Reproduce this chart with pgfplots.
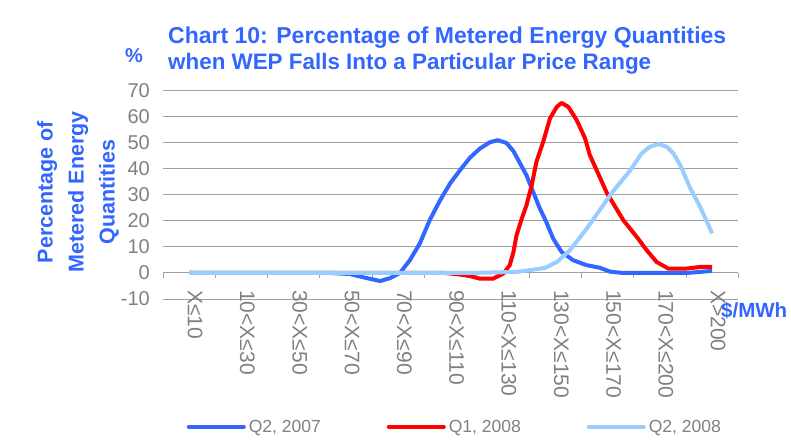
\documentclass[border=0pt]{standalone}
\usepackage{fontspec}
\setmainfont{Liberation Sans}
\usepackage{pgfplots}
\pgfplotsset{compat=1.18}
\definecolor{cblue}{RGB}{51,102,255}
\definecolor{cred}{RGB}{255,0,0}
\definecolor{clight}{RGB}{153,204,255}
\definecolor{tgray}{RGB}{128,128,128}
\definecolor{ggray}{RGB}{160,160,160}
\begin{document}
\begin{tikzpicture}
\path[use as bounding box] (0,0) rectangle (791pt,444pt);
\begin{axis}[
  at={(163pt,145pt)}, anchor=south west,
  scale only axis, width=575.3pt, height=208.3pt,
  xmin=-0.5, xmax=10.5, ymin=-10, ymax=70,
  clip=false,
  axis line style={draw=none},
  xtick={-0.5,0.5,...,10.5},
  x tick label as interval,
  xticklabels={X≤10,10<X≤30,30<X≤50,50<X≤70,70<X≤90,90<X≤110,110<X≤130,130<X≤150,150<X≤170,170<X≤200,X>200},
  ytick={-10,0,...,70},
  ymajorgrids,
  grid style={ggray, line width=1pt},
  major tick length=0pt,
  /pgf/number format/assume math mode=true,
  tick label style={text=tgray},
  yticklabel style={font=\fontsize{20}{20}\selectfont, anchor=east, inner sep=0pt, xshift=-13pt},
  xticklabel style={font=\fontsize{21}{21}\selectfont, xshift=6pt, yshift=9pt, rotate=-90, anchor=west, inner sep=0pt},
  legend columns=3,
  legend style={at={(axis description cs:0.041,-0.613)}, anchor=west, draw=none, fill=none,
    inner sep=0pt, font=\fontsize{17.5}{17.5}\selectfont, text=tgray,
    nodes={inner sep=0pt},
    /tikz/every odd column/.append style={column sep=3pt},
    /tikz/every even column/.append style={column sep=66pt}},
]
\draw[ggray, line width=1pt] (axis cs:-0.5,0) -- (axis cs:10.5,0);
\pgfplotsinvokeforeach{-0.5,0.5,...,10.5}{\draw[ggray, line width=1pt] (axis cs:#1,0) -- ++(0pt,-5pt);}
\addplot[cblue, line width=4pt, line join=round,
  legend image code/.code={\draw[cblue, line width=4pt, line cap=round] (0pt,0pt) -- (55pt,0pt);}] coordinates {
(0,0) (1,0) (2,0) (2.69,0) (3.07,-0.4) (3.36,-1.8) (3.65,-3.1) (3.84,-2.0) (4.03,0) (4.22,4.9) (4.41,11.3) (4.60,20.3) (4.80,28) (4.99,34.4) (5.18,39.5) (5.37,44.3) (5.56,47.8) (5.75,50.2) (5.90,51) (6.07,49.9) (6.20,46.8) (6.33,42) (6.45,37.5) (6.57,31.5) (6.70,25) (6.83,19.5) (6.96,13.2) (7.12,8.1) (7.34,4.9) (7.60,3) (7.85,2.0) (8.05,0.5) (8.29,0) (9,0) (9.52,0) (10,0.8)};
\addlegendentry{Q2, 2007}
\addplot[cred, line width=4pt, line join=round,
  legend image code/.code={\draw[cred, line width=4pt, line cap=round] (0pt,0pt) -- (55pt,0pt);}] coordinates {
(0,0) (4.89,0) (5.18,-0.6) (5.37,-1.2) (5.56,-2.2) (5.81,-2.2) (6.01,-0.2) (6.13,3) (6.20,8) (6.26,14.5) (6.36,20.9) (6.45,26) (6.55,33.7) (6.64,42.7) (6.77,50.4) (6.90,59.4) (7.03,63.8) (7.12,65.3) (7.25,63.8) (7.41,58.7) (7.57,51.7) (7.66,45.3) (7.82,38.2) (7.98,31) (8.30,20.3) (8.56,13.8) (8.75,8.7) (8.94,4.2) (9.16,1.7) (9.51,1.7) (9.77,2.3) (10,2.3)};
\addlegendentry{Q1, 2008}
\addplot[clight, line width=4pt, line join=round,
  legend image code/.code={\draw[clight, line width=4pt, line cap=round] (0pt,0pt) -- (55pt,0pt);}] coordinates {
(0,0) (5.37,0) (6.26,0.4) (6.80,1.9) (7.03,4.2) (7.28,8.7) (7.60,17) (7.85,24.1) (8.11,31.5) (8.43,39.3) (8.65,45.9) (8.81,48.5) (8.97,49.5) (9.13,48.5) (9.26,45.9) (9.40,41) (9.57,33) (9.77,25.4) (10,15.2)};
\addlegendentry{Q2, 2008}
\end{axis}
\node[anchor=base west, inner sep=0pt, font=\fontsize{23}{26.7}\selectfont\bfseries, text=cblue] at (168pt,400.7pt) {Chart 10: Percentage of Metered Energy Quantities};
\node[anchor=base west, inner sep=0pt, font=\fontsize{22.4}{26.7}\selectfont\bfseries, text=cblue] at (168pt,374pt) {when WEP Falls Into a Particular Price Range};
\node[anchor=base west, inner sep=0pt, font=\fontsize{20}{24}\selectfont\bfseries, text=cblue] at (125pt,381pt) {\%};
\node[anchor=base west, inner sep=0pt, font=\fontsize{20.5}{24}\selectfont\bfseries, text=cblue] at (721pt,126pt) {\$/MWh};
\node[rotate=90, align=center, inner sep=0pt, font=\fontsize{21.5}{31}\selectfont\bfseries, text=cblue] at (78pt,252pt) {Percentage of\\Metered Energy\\Quantities};
\end{tikzpicture}
\end{document}
